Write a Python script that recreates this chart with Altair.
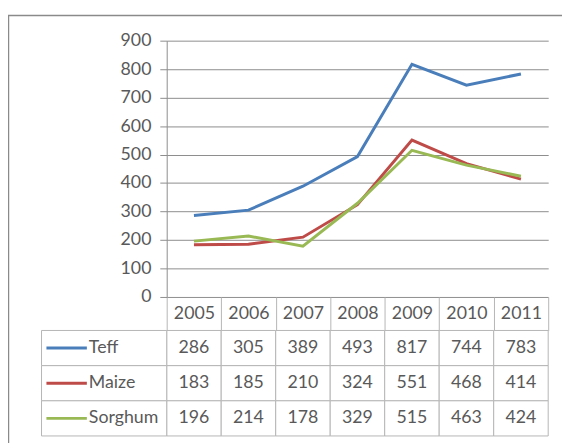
import altair as alt
import pandas as pd

years = ["2005", "2006", "2007", "2008", "2009", "2010", "2011"]
series = ["Teff", "Maize", "Sorghum"]
teff = [286, 305, 389, 493, 817, 744, 783]
maize = [183, 185, 210, 324, 551, 468, 414]
sorghum = [196, 214, 178, 329, 515, 463, 424]
colors = ["#4A7EBB", "#BE4B48", "#98B954"]
y_ticks = [0, 100, 200, 300, 400, 500, 600, 700, 800, 900]

rows = []
for s, vals in zip(series, [teff, maize, sorghum]):
    for yr, v in zip(years, vals):
        rows.append({"year": yr, "series": s, "value": v})
df = pd.DataFrame(rows)
legend_df = pd.DataFrame({"series": series})
frame_df = pd.DataFrame({"frame": [0]})

TXT = "#595959"
GRID = "#8c8c8c"
CELL = "#b5b5b5"
FS = 18

x_scale = alt.Scale(domain=years, paddingInner=0, paddingOuter=0)
x_axis = alt.Axis(title=None, labelAngle=0, tickBand="extent", tickSize=34,
                  tickColor=CELL, domain=False, grid=False, labelPadding=-17,
                  labelBaseline="middle", labelFontSize=FS, labelColor=TXT)
color = alt.Color("series:N", scale=alt.Scale(domain=series, range=colors), legend=None)

frame = alt.Chart(frame_df).mark_rect(fill="transparent", stroke="#8a8a8a", strokeWidth=1.5).encode(
    x=alt.value(-160.5), x2=alt.value(430), y=alt.value(-25.5), y2=alt.value(440)
)

lines = alt.Chart(df).mark_line(strokeWidth=3).encode(
    x=alt.X("year:N", sort=years, scale=x_scale, bandPosition=0.5, axis=x_axis),
    y=alt.Y("value:Q", scale=alt.Scale(domain=[0, 900], nice=False),
            axis=alt.Axis(values=y_ticks, title=None, grid=True, gridColor=GRID,
                          tickColor=GRID, tickSize=7, domainColor=GRID, labelPadding=9,
                          labelFontSize=FS, labelColor=TXT)),
    color=color,
)

table_y = alt.Scale(domain=series, range=[294, 401], paddingInner=0, paddingOuter=0)

cells = alt.Chart(df).mark_rect(fill="white", stroke=CELL, strokeWidth=1).encode(
    x=alt.X("year:N", sort=years, scale=x_scale, axis=x_axis),
    y=alt.Y("series:N", sort=series, scale=table_y, axis=None),
)
values = alt.Chart(df).mark_text(fontSize=FS, color=TXT, baseline="middle", align="center").encode(
    x=alt.X("year:N", sort=years, scale=x_scale, axis=x_axis, bandPosition=0.5),
    y=alt.Y("series:N", sort=series, scale=table_y, axis=None, bandPosition=0.5),
    text="value:Q",
)
leg_cells = alt.Chart(legend_df).mark_rect(fill="white", stroke=CELL, strokeWidth=1).encode(
    x=alt.value(-127), x2=alt.value(0),
    y=alt.Y("series:N", sort=series, scale=table_y, axis=None),
)
leg_lines = alt.Chart(legend_df).mark_rule(strokeWidth=3).encode(
    x=alt.value(-122), x2=alt.value(-81),
    y=alt.Y("series:N", sort=series, scale=table_y, axis=None, bandPosition=0.5),
    color=color,
)
leg_text = alt.Chart(legend_df).mark_text(fontSize=FS, color=TXT, align="left", baseline="middle").encode(
    x=alt.value(-79),
    y=alt.Y("series:N", sort=series, scale=table_y, axis=None, bandPosition=0.5),
    text="series:N",
)

table = alt.layer(cells, values, leg_cells, leg_lines, leg_text)

chart = alt.layer(frame, lines, table).resolve_scale(y="independent").properties(
    width=387, height=260,
    padding={"left": 161, "top": 30, "right": 14, "bottom": 145},
    autosize=alt.AutoSizeParams(type="none"),
).configure(font="Lato").configure_view(stroke=None)

chart.save("out.html", embed_options={"renderer": "svg", "actions": False})
